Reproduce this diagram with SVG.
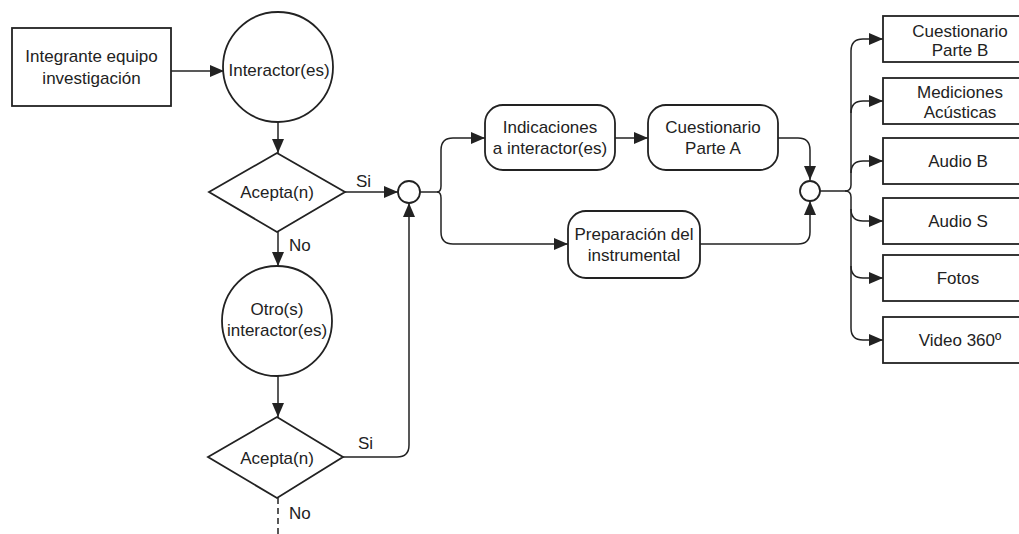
<svg xmlns="http://www.w3.org/2000/svg" width="1019" height="534" viewBox="0 0 1019 534">
<style>
.s{fill:#fff;stroke:#222;stroke-width:1.8}
.c{fill:none;stroke:#222;stroke-width:1.5}
.t{font-family:"Liberation Sans",Arial,sans-serif;font-size:17px;fill:#222;text-anchor:middle}
.l{font-family:"Liberation Sans",Arial,sans-serif;font-size:17px;fill:#222}
</style>
<defs>
<marker id="ah" markerWidth="14" markerHeight="12" refX="14" refY="6" orient="auto" markerUnits="userSpaceOnUse"><path d="M0,0 L14,6 L0,12 z" fill="#222"/></marker>
</defs>
<rect width="1019" height="534" fill="#fff"/>
<g id="connectors">
<path class="c" d="M171,71 H224" marker-end="url(#ah)"/>
<path class="c" d="M278,122 V153" marker-end="url(#ah)"/>
<path class="c" d="M345,192 H398" marker-end="url(#ah)"/>
<path class="c" d="M278,232 V266" marker-end="url(#ah)"/>
<path class="c" d="M278,376 V417" marker-end="url(#ah)"/>
<path class="c" d="M343,457 H397 Q409,457 409,445 V203" marker-end="url(#ah)"/>
<path class="c" d="M278,498 V534" stroke-dasharray="6,4"/>
<path class="c" d="M420,192 H437"/>
<path class="c" d="M437,192 Q441,192 441,186 V150 Q441,138 453,138 H485" marker-end="url(#ah)"/>
<path class="c" d="M437,192 Q441,192 441,198 V232 Q441,244 453,244 H568" marker-end="url(#ah)"/>
<path class="c" d="M615,138 H648" marker-end="url(#ah)"/>
<path class="c" d="M778,138 H798 Q810,138 810,150 V180" marker-end="url(#ah)"/>
<path class="c" d="M700,244 H798 Q810,244 810,232 V201" marker-end="url(#ah)"/>
<path class="c" d="M820,191 H845"/>
<path class="c" d="M845,191 Q851,191 851,185 V51 Q851,39 863,39 H883" marker-end="url(#ah)"/>
<path class="c" d="M845,191 Q851,191 851,197 V328 Q851,340 863,340 H883" marker-end="url(#ah)"/>
<path class="c" d="M851,113 Q851,101 863,101 H883" marker-end="url(#ah)"/>
<path class="c" d="M851,173 Q851,161 863,161 H883" marker-end="url(#ah)"/>
<path class="c" d="M851,209 Q851,221 863,221 H883" marker-end="url(#ah)"/>
<path class="c" d="M851,266 Q851,278 863,278 H883" marker-end="url(#ah)"/>
<text class="l" x="356" y="187">Si</text>
<text class="l" x="289" y="251">No</text>
<text class="l" x="358" y="449">Si</text>
<text class="l" x="289" y="519">No</text>
</g>
<g id="integrante">
<rect class="s" x="12" y="28" width="159" height="78"/>
<text class="t" x="91.5" y="62">Integrante equipo</text>
<text class="t" x="91.5" y="84">investigación</text>
</g>
<g id="interactor">
<circle class="s" cx="278" cy="67" r="55"/>
<text class="t" x="279" y="76">Interactor(es)</text>
</g>
<g id="acepta1">
<polygon class="s" points="209,192 277,153 345,192 277,232"/>
<text class="t" x="277" y="198">Acepta(n)</text>
</g>
<g id="otros">
<circle class="s" cx="277" cy="321" r="55"/>
<text class="t" x="277" y="315">Otro(s)</text>
<text class="t" x="277" y="336">interactor(es)</text>
</g>
<g id="acepta2">
<polygon class="s" points="208,457 277,417 343,457 277,498"/>
<text class="t" x="277" y="464">Acepta(n)</text>
</g>
<g id="junction1">
<circle class="s" cx="409" cy="192" r="11"/>
</g>
<g id="indicaciones">
<rect class="s" x="485" y="105" width="130" height="65" rx="18"/>
<text class="t" x="550" y="133">Indicaciones</text>
<text class="t" x="550" y="154">a interactor(es)</text>
</g>
<g id="cuestionarioA">
<rect class="s" x="648" y="105" width="130" height="65" rx="18"/>
<text class="t" x="713" y="133">Cuestionario</text>
<text class="t" x="713" y="154">Parte A</text>
</g>
<g id="preparacion">
<rect class="s" x="568" y="211" width="132" height="67" rx="18"/>
<text class="t" x="634" y="240">Preparación del</text>
<text class="t" x="634" y="261">instrumental</text>
</g>
<g id="junction2">
<circle class="s" cx="810" cy="191" r="10"/>
</g>
<g id="cuestionarioB">
<rect class="s" x="883" y="16" width="152" height="46"/>
<text class="t" x="960" y="37">Cuestionario</text>
<text class="t" x="960" y="56">Parte B</text>
</g>
<g id="mediciones">
<rect class="s" x="883" y="78" width="152" height="46"/>
<text class="t" x="960" y="98">Mediciones</text>
<text class="t" x="960" y="118">Acústicas</text>
</g>
<g id="audioB">
<rect class="s" x="883" y="138" width="152" height="46"/>
<text class="t" x="958" y="167">Audio B</text>
</g>
<g id="audioS">
<rect class="s" x="883" y="198" width="152" height="46"/>
<text class="t" x="958" y="227">Audio S</text>
</g>
<g id="fotos">
<rect class="s" x="883" y="255" width="152" height="46"/>
<text class="t" x="958" y="284">Fotos</text>
</g>
<g id="video">
<rect class="s" x="883" y="317" width="152" height="46"/>
<text class="t" x="960" y="346">Video 360º</text>
</g>
</svg>
